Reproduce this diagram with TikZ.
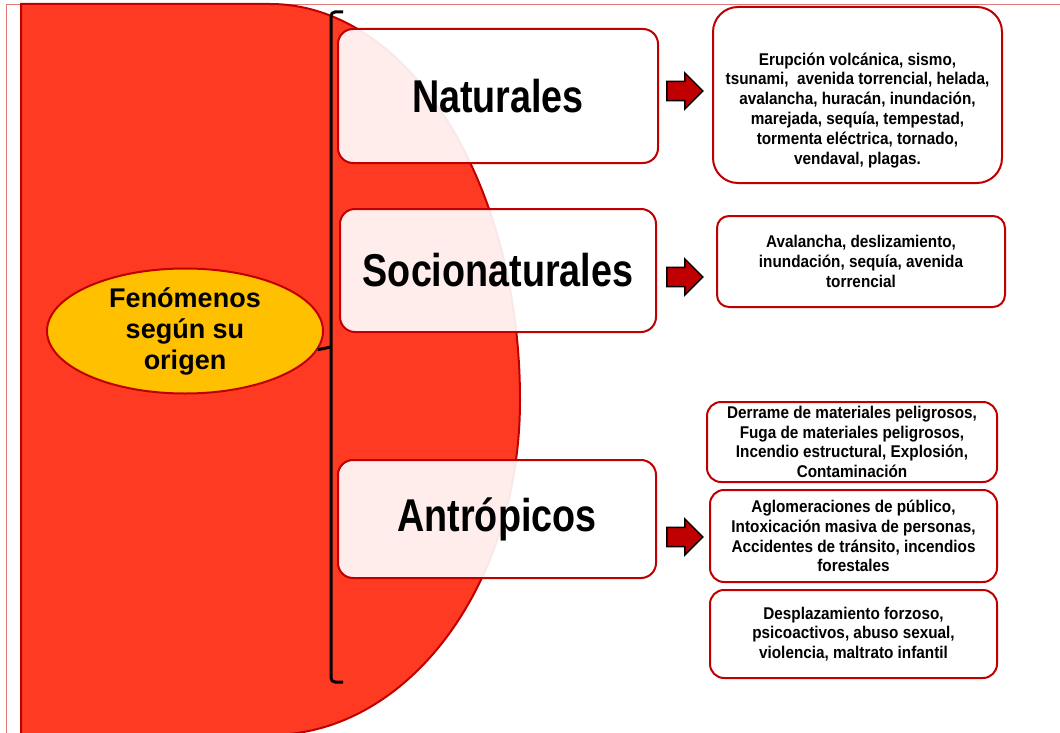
\documentclass[tikz,border=0pt]{standalone}
\usepackage{fontspec}
\setmainfont{Liberation Sans}
\newfontfamily\catfont{Liberation Sans}[FakeStretch=0.82]
\newfontfamily\listfont{Liberation Sans}[FakeStretch=0.9]
\usepackage{xcolor}
\definecolor{rojooscuro}{RGB}{192,0,0}
\definecolor{fondo}{RGB}{255,58,34}
\definecolor{amarillo}{RGB}{255,192,0}
\definecolor{marco}{RGB}{225,120,120}
\usepackage{tikz}
\usetikzlibrary{shapes.geometric, shapes.arrows, positioning}

\begin{document}
\begin{tikzpicture}[
  x=1pt, y=-1pt,
  categoria/.style={rectangle, rounded corners=15pt, draw=rojooscuro,
                    line width=2pt, fill=white, fill opacity=0.91,
                    text opacity=1, align=center,
                    font=\catfont\bfseries\fontsize{46}{50}\selectfont},
  lista/.style    ={rectangle, rounded corners=14pt, draw=rojooscuro,
                    line width=2pt, fill=white, align=center, inner sep=0pt,
                    font=\listfont\bfseries\fontsize{17}{19.8}\selectfont},
  flecha/.style   ={single arrow, draw=black, line width=1.5pt,
                    fill=rojooscuro, inner xsep=0pt, inner ysep=7.5pt,
                    minimum width=36pt, minimum height=36pt},
]
\useasboundingbox (0,0) rectangle (1060,733);
\clip (0,0) rectangle (1060,733);

%% --- fondo ---
\draw[marco, line width=0.8pt] (6,4) rectangle (1080,760);
\draw[rojooscuro, line width=2pt, fill=fondo]
  (21,4) -- (270,4)
  arc[start angle=-90, end angle=0, x radius=250, y radius=396]
  arc[start angle=0, end angle=90, x radius=250, y radius=335]
  -- (21,740) -- cycle;

%% --- origen ---
\node[ellipse, draw=rojooscuro, line width=2pt, fill=amarillo,
      minimum width=276pt, minimum height=125pt, inner sep=0pt,
      align=center, font=\bfseries\fontsize{27}{31}\selectfont]
  (origen) at (185,331) {Fenómenos\\según su\\origen};

%% --- llave ---
\coordinate (llsup) at (343,12);
\coordinate (llinf) at (343,682);
\coordinate (llmed) at (331,347);
\draw[line width=3pt, rounded corners=4pt]
  (llsup) -- (331,12) -- (331,682) -- (llinf);
\draw[line width=3pt] (llmed) -- (origen.-8);

%% --- categorias ---
\node[categoria, minimum width=320pt, minimum height=134pt]
  (nat) at (498,96) {Naturales};
\node[categoria, minimum width=316pt, minimum height=123pt]
  (soc) at (498,270.5) {Socionaturales};
\node[categoria, minimum width=318pt, minimum height=118pt]
  (ant) at (497,519) {Antrópicos};

%% --- flechas ---
\node[flecha] (f1) at (680,91) {};
\node[flecha] (f2) at (680,277) {};
\node[flecha] (f3) at (680,537) {};

%% --- ejemplos ---
\node[lista, rounded corners=25pt, minimum width=289pt, minimum height=176pt,
      text height=142pt] (d1) at (857.5,95)
  {Erupción volcánica, sismo,\\
   tsunami,\ \ avenida torrencial, helada,\\
   avalancha, huracán, inundación,\\
   marejada, sequía, tempestad,\\
   tormenta eléctrica, tornado,\\
   vendaval, plagas.};

\node[lista, rounded corners=12pt, minimum width=288pt, minimum height=91pt]
  (d2) at (861,261.5)
  {Avalancha, deslizamiento,\\
   inundación, sequía, avenida\\
   torrencial};

\node[lista, minimum width=290pt, minimum height=80pt] (d3) at (852,442)
  {Derrame de materiales peligrosos,\\
   Fuga de materiales peligrosos,\\
   Incendio estructural, Explosión,\\
   Contaminación};

\node[lista, minimum width=287pt, minimum height=92pt] (d4) at (853.5,536)
  {Aglomeraciones de público,\\
   Intoxicación masiva de personas,\\
   Accidentes de tránsito, incendios\\
   forestales};

\node[lista, minimum width=287pt, minimum height=88pt] (d5) at (853.5,634)
  {Desplazamiento forzoso,\\
   psicoactivos, abuso sexual,\\
   violencia, maltrato infantil};
\end{tikzpicture}
\end{document}
